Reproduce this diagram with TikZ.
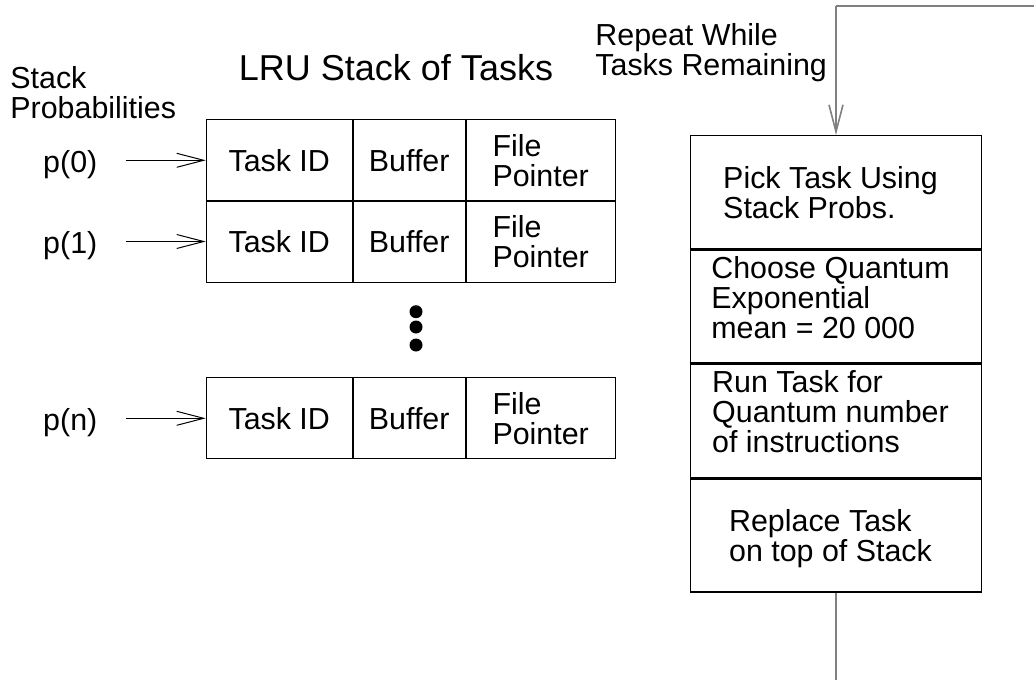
\documentclass[tikz,border=0pt]{standalone}
\usepackage{fontspec}
\setmainfont{Liberation Sans}

\begin{document}
\begin{tikzpicture}[x=0.5pt, y=-0.5pt, font=\fontsize{15.2}{15}\selectfont,
		cell/.style={draw, line width=0.5pt, minimum height=40.5pt, inner sep=0pt, align=left},
		feed/.style={-{Straight Barb[length=13.5pt, width=7pt]}, line width=0.5pt},
		flowbox/.style={draw, line width=0.7pt, minimum width=145.5pt, minimum height=56.5pt, inner sep=0pt},
		flowtext/.style={align=left, inner sep=0pt},
		wire/.style={draw=black!50, line width=0.8pt}]
			\usetikzlibrary{positioning, arrows.meta}
			\useasboundingbox (0,0) rectangle (1034,680);
			\node[flowtext, anchor=north west] (probs) at (10,66) {Stack\\Probabilities};
			\node[inner sep=0pt, anchor=base, font=\fontsize{18}{20}\selectfont] (title) at (396,80) {LRU Stack of Tasks};
			\foreach \r/\top in {0/119.3, 1/200.5, n/377.3}
			{
				\node[cell, minimum width=73pt, anchor=north west] (id\r) at (205.7,\top) {Task ID};
				\node[cell, minimum width=56pt, right=0pt of id\r] (buf\r) {Buffer};
				\node[cell, minimum width=74.5pt, right=0pt of buf\r] (ptr\r) {File\\Pointer};
				\node[left=54pt of id\r, inner sep=0pt, yshift=-2pt] (p\r) {p(\r)};
				\draw[feed, shorten <=14pt] (p\r.east |- id\r.west) -- (id\r);
			}
			\foreach \y in {311.7, 327, 345}
				\fill (416,\y) circle (3.25pt);
			\node[flowtext, anchor=north west] (repeat) at (595,23) {Repeat While\\Tasks Remaining};
			\node[flowbox] (pick) at (836,192.2) {};
			\node[flowbox, below=0pt of pick] (choose) {};
			\node[flowbox, below=0pt of choose] (run) {};
			\node[flowbox, below=0pt of run] (replace) {};
			\node[flowtext] at ([xshift=-2.75pt]pick) {Pick Task Using\\Stack Probs.};
			\node[flowtext] at ([xshift=-2.75pt, yshift=4.6pt]choose) {Choose Quantum\\Exponential\\mean = 20 000};
			\node[flowtext] at ([xshift=-2.75pt, yshift=4.75pt]run) {Run Task for\\Quantum number\\of instructions};
			\node[flowtext] at ([xshift=-2.75pt, yshift=-1.5pt]replace) {Replace Task\\on top of Stack};
			\coordinate (loopin) at (836,6);
			\coordinate (loopend) at (1034,6);
			\coordinate (loopexit) at (836,680);
			\draw[wire] (loopend) -- (loopin);
			\draw[feed, wire] (loopin) -- (pick.north);
			\draw[wire] (replace.south) -- (loopexit);
\end{tikzpicture}
\end{document}
